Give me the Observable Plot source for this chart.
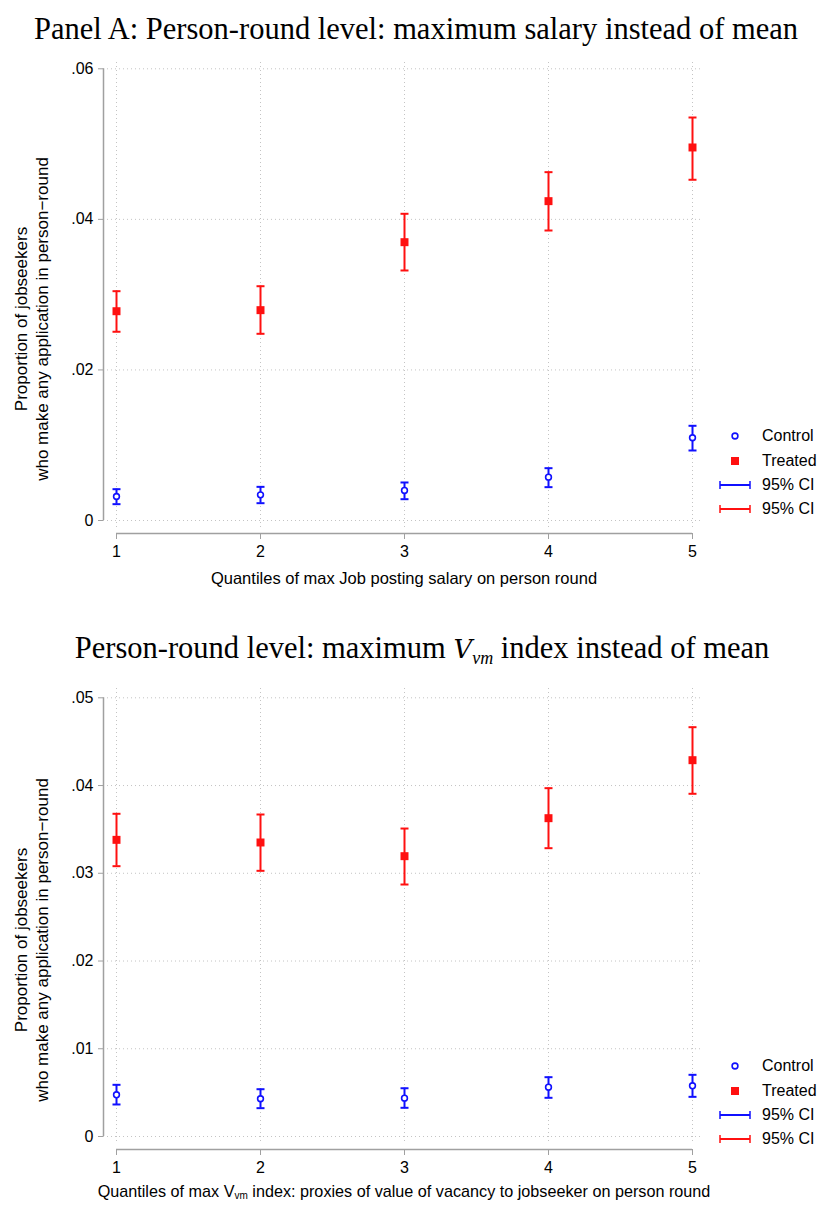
<!DOCTYPE html>
<html><head><meta charset="utf-8">
<script src="https://cdn.jsdelivr.net/npm/d3@7"></script>
<script src="https://cdn.jsdelivr.net/npm/@observablehq/plot@0.6"></script>
<style>
body{margin:0;background:#fff;}
#page{position:relative;width:820px;height:1218px;overflow:hidden;font-family:"Liberation Sans",Arial,sans-serif;background:#fff;}
.title{position:absolute;left:0;width:820px;text-align:center;font-family:"Liberation Serif","Times New Roman",serif;font-size:30.5px;color:#000;line-height:1;white-space:nowrap;z-index:2;}
.xtitle{position:absolute;font-size:16.5px;color:#000;white-space:nowrap;transform:translate(-50%,-50%);line-height:1;z-index:2;}
.panel{position:absolute;left:0;z-index:1;}
.lg{position:absolute;font-size:16px;color:#000;white-space:nowrap;line-height:1;transform:translateY(-50%);z-index:2;}
.lgsym{position:absolute;z-index:2;}
</style>
</head><body>
<div id="page"></div>
<script>
// ---------- data ----------
const quantiles = [1, 2, 3, 4, 5];
const xTickLabels = ["1", "2", "3", "4", "5"];

// Panel A: max salary
const yTicksA = [0, 0.02, 0.04, 0.06];
const yTickLabelsA = ["0", ".02", ".04", ".06"];
const controlA    = [0.00319, 0.00341, 0.00399, 0.00576, 0.01099];
const controlA_lo = [0.00217, 0.00230, 0.00283, 0.00443, 0.00930];
const controlA_hi = [0.00416, 0.00447, 0.00505, 0.00695, 0.01258];
const treatedA    = [0.02780, 0.02794, 0.03697, 0.04242, 0.04955];
const treatedA_lo = [0.02507, 0.02480, 0.03321, 0.03852, 0.04526];
const treatedA_hi = [0.03046, 0.03112, 0.04074, 0.04627, 0.05353];

// Panel B: max V_vm index
const yTicksB = [0, 0.01, 0.02, 0.03, 0.04, 0.05];
const yTickLabelsB = ["0", ".01", ".02", ".03", ".04", ".05"];
const controlB    = [0.00475, 0.00430, 0.00437, 0.00562, 0.00578];
const controlB_lo = [0.00365, 0.00323, 0.00327, 0.00441, 0.00452];
const controlB_hi = [0.00589, 0.00539, 0.00550, 0.00676, 0.00703];
const treatedB    = [0.03381, 0.03351, 0.03195, 0.03628, 0.04289];
const treatedB_lo = [0.03081, 0.03028, 0.02872, 0.03286, 0.03906];
const treatedB_hi = [0.03678, 0.03670, 0.03510, 0.03970, 0.04665];

const legendLabels = ["Control", "Treated", "95% CI", "95% CI"];
const yTitle = ["Proportion of jobseekers", "who make any application in person\u2212round"];

// ---------- styles ----------
const BLUE = "#1010ff", RED = "#ff1010", AXIS = "#a0a0a0", GRID = "#c4c4c4";
const FONT = "Liberation Sans, Arial, sans-serif";

const cap = {draw(ctx) { ctx.moveTo(-4, 0); ctx.lineTo(4, 0); }};

function rows(v, lo, hi) { return quantiles.map((q, i) => ({q, v: v[i], lo: lo[i], hi: hi[i]})); }

function makePanel({height, marginTop, marginBottom, yRange, yTicks, yLabels, control, treated}) {
  const fmt = d => yLabels[yTicks.indexOf(d)];
  const series = [[control, BLUE], [treated, RED]];
  const marks = [
    Plot.gridY(yTicks, {stroke: GRID, strokeOpacity: 1, strokeDasharray: "1,3"}),
    Plot.gridX(quantiles, {stroke: GRID, strokeOpacity: 1, strokeDasharray: "1,3"}),
    Plot.axisY(yTicks, {tickFormat: fmt, tickSize: 5, tickPadding: 5, stroke: AXIS, fill: "#000", label: null, fontSize: 16}),
    Plot.axisX(quantiles, {tickFormat: d => xTickLabels[quantiles.indexOf(d)], tickSize: 6, tickPadding: 6, dy: 6, stroke: AXIS, fill: "#000", label: null, fontSize: 16}),
    Plot.ruleX([quantiles[0]], {y1: yTicks[0], y2: yTicks[yTicks.length - 1], dx: -13, stroke: AXIS, strokeWidth: 1.5}),
    Plot.ruleY([yTicks[0]], {x1: quantiles[0], x2: quantiles[quantiles.length - 1], dy: 13, stroke: AXIS, strokeWidth: 1.5}),
    Plot.text([yTitle[0]], {frameAnchor: "left", textAnchor: "middle", rotate: -90, dx: -82, dy: 24, fontSize: 17, fill: "#000"}),
    Plot.text([yTitle[1]], {frameAnchor: "left", textAnchor: "middle", rotate: -90, dx: -61, dy: 24, fontSize: 17, fill: "#000"})
  ];
  for (const [d, color] of series) {
    marks.push(
      Plot.ruleX(d, {x: "q", y1: "lo", y2: "hi", stroke: color, strokeWidth: 2}),
      Plot.dot(d, {x: "q", y: "lo", symbol: cap, r: 4, fill: "none", stroke: color, strokeWidth: 2}),
      Plot.dot(d, {x: "q", y: "hi", symbol: cap, r: 4, fill: "none", stroke: color, strokeWidth: 2})
    );
  }
  marks.push(
    Plot.dot(control, {x: "q", y: "v", r: 2.9, fill: "white", stroke: BLUE, strokeWidth: 1.6}),
    Plot.dot(treated, {x: "q", y: "v", symbol: "square", r: 4.5, fill: RED, stroke: "none"})
  );
  return Plot.plot({
    width: 820, height, marginLeft: 103, marginRight: 119, marginTop, marginBottom,
    x: {domain: [quantiles[0], quantiles[quantiles.length - 1]], range: [116, 692]},
    y: {domain: [yTicks[0], yTicks[yTicks.length - 1]], range: yRange},
    style: {fontFamily: FONT, fontSize: "16px", color: "#000", background: "transparent", overflow: "visible"},
    marks
  });
}

function legend(page, top, rowYs) {
  const syms = [
    `<svg width="12" height="12"><circle cx="6" cy="6" r="2.9" fill="white" stroke="${BLUE}" stroke-width="1.6"/></svg>`,
    `<svg width="12" height="12"><rect x="2" y="2" width="8" height="8" fill="${RED}"/></svg>`,
    `<svg width="34" height="12"><line x1="2" x2="32" y1="6" y2="6" stroke="${BLUE}" stroke-width="2"/><line x1="2" x2="2" y1="2" y2="10" stroke="${BLUE}" stroke-width="1.5"/><line x1="32" x2="32" y1="2" y2="10" stroke="${BLUE}" stroke-width="1.5"/></svg>`,
    `<svg width="34" height="12"><line x1="2" x2="32" y1="6" y2="6" stroke="${RED}" stroke-width="2"/><line x1="2" x2="2" y1="2" y2="10" stroke="${RED}" stroke-width="1.5"/><line x1="32" x2="32" y1="2" y2="10" stroke="${RED}" stroke-width="1.5"/></svg>`
  ];
  legendLabels.forEach((lab, i) => {
    const y = top + rowYs[i];
    const s = document.createElement("div");
    s.className = "lgsym";
    s.innerHTML = syms[i];
    s.style.top = (y - 6) + "px";
    s.style.left = (i < 2 ? 729 : 718) + "px";
    s.style.lineHeight = "0";
    page.appendChild(s);
    const t = document.createElement("div");
    t.className = "lg";
    t.textContent = lab;
    t.style.top = y + "px";
    t.style.left = "762px";
    page.appendChild(t);
  });
}

const page = document.getElementById("page");

// Panel A
const pA = document.createElement("div");
pA.className = "panel"; pA.style.top = "40px";
pA.appendChild(makePanel({height: 560, marginTop: 22, marginBottom: 73, yRange: [480, 28.3],
  yTicks: yTicksA, yLabels: yTickLabelsA,
  control: rows(controlA, controlA_lo, controlA_hi), treated: rows(treatedA, treatedA_lo, treatedA_hi)}));
page.appendChild(pA);

const tA = document.createElement("div");
tA.className = "title"; tA.style.top = "14px"; tA.style.left = "6px";
tA.textContent = "Panel A: Person-round level: maximum salary instead of mean";
page.appendChild(tA);

const xA = document.createElement("div");
xA.className = "xtitle"; xA.style.left = "404px"; xA.style.top = "578px";
xA.textContent = "Quantiles of max Job posting salary on person round";
page.appendChild(xA);
legend(page, 0, [436, 461, 485, 509]);

// Panel B
const pB = document.createElement("div");
pB.className = "panel"; pB.style.top = "660px";
pB.appendChild(makePanel({height: 558, marginTop: 28, marginBottom: 75, yRange: [476, 37.3],
  yTicks: yTicksB, yLabels: yTickLabelsB,
  control: rows(controlB, controlB_lo, controlB_hi), treated: rows(treatedB, treatedB_lo, treatedB_hi)}));
page.appendChild(pB);

const tB = document.createElement("div");
tB.className = "title"; tB.style.top = "633px"; tB.style.left = "12px";
tB.innerHTML = "Person-round level: maximum <i style=\"font-family:'DejaVu Serif',serif;font-size:26px\">V</i><sub style=\"font-size:18px;font-style:italic;vertical-align:-6px\">vm</sub> index instead of mean";
page.appendChild(tB);

const xB = document.createElement("div");
xB.className = "xtitle"; xB.style.left = "404px"; xB.style.top = "1192px"; xB.style.fontSize = "16.2px";
xB.innerHTML = "Quantiles of max V<sub style=\"font-size:10px;vertical-align:-2px\">vm</sub> index: proxies of value of vacancy to jobseeker on person round";
page.appendChild(xB);
legend(page, 0, [1066, 1091, 1115, 1139]);
</script>
</body></html>
